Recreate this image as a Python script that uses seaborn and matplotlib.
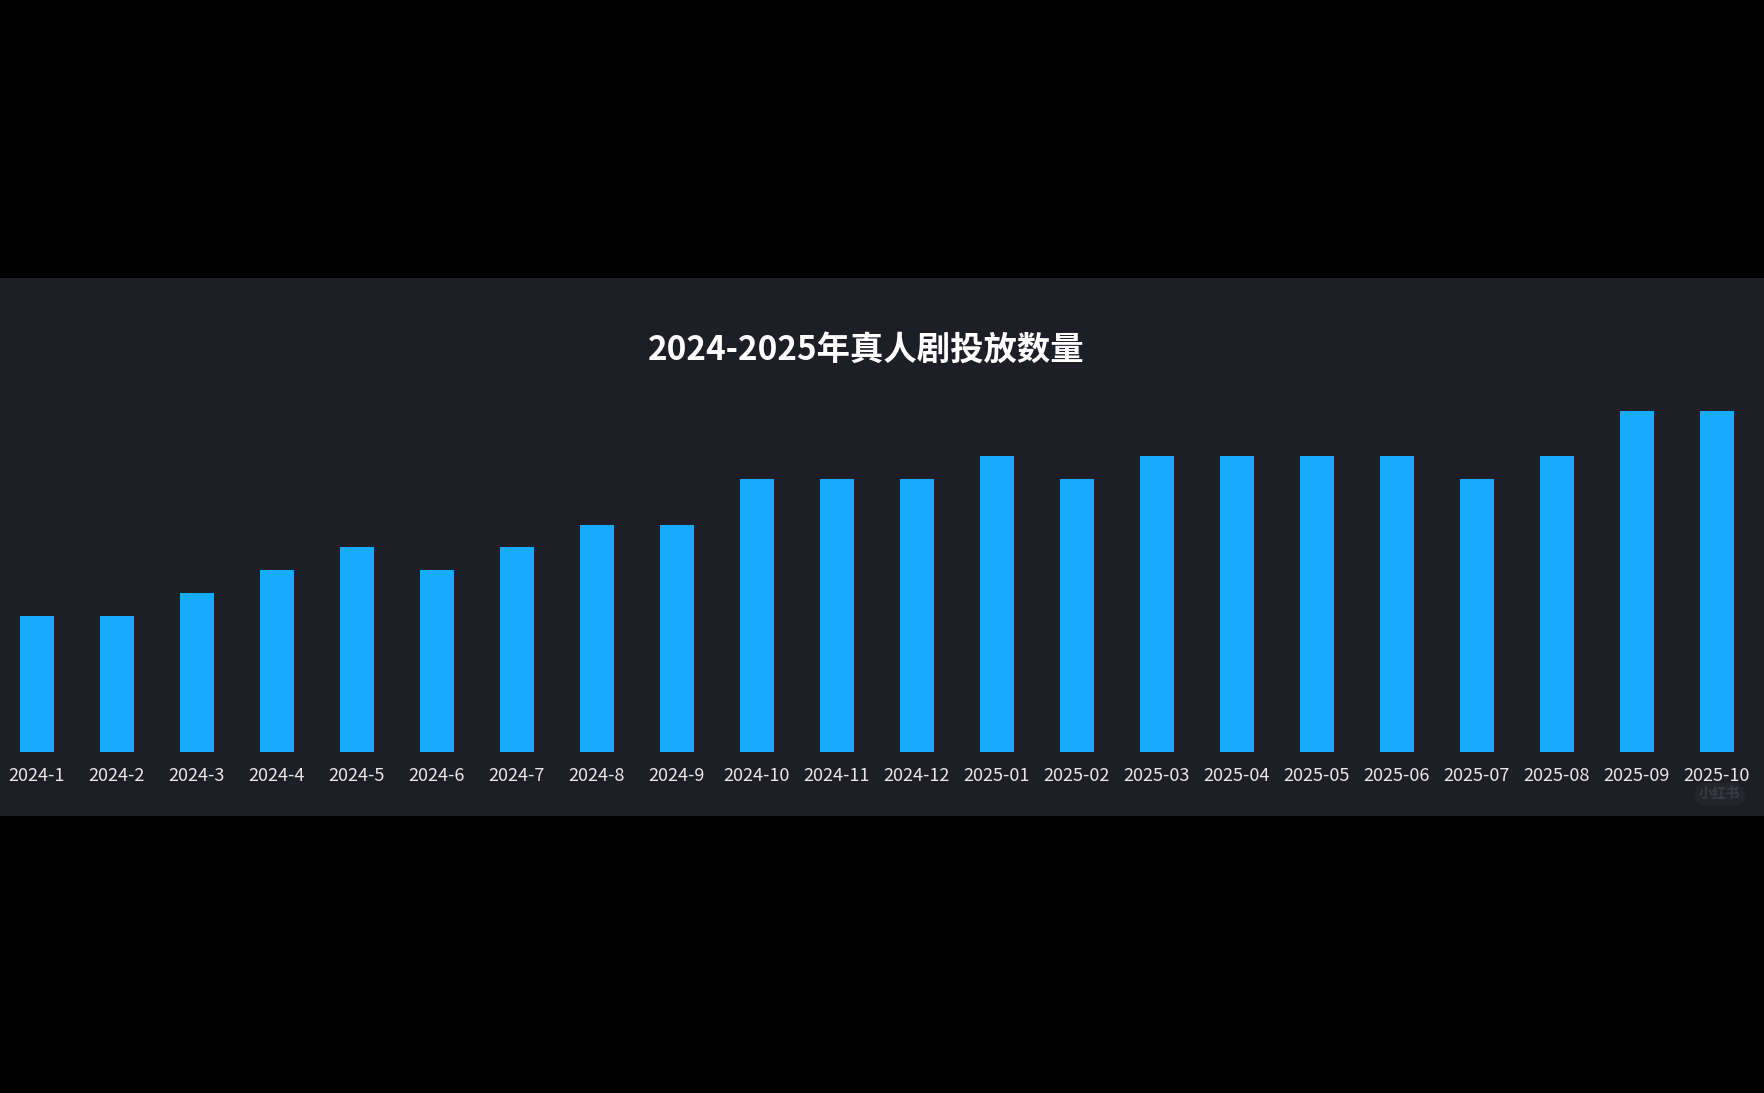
import matplotlib
matplotlib.use("Agg")
import matplotlib.pyplot as plt
import seaborn as sns
import pandas as pd
from matplotlib.patches import Rectangle

months = ["2024-1", "2024-2", "2024-3", "2024-4", "2024-5", "2024-6", "2024-7",
          "2024-8", "2024-9", "2024-10", "2024-11", "2024-12", "2025-01", "2025-02",
          "2025-03", "2025-04", "2025-05", "2025-06", "2025-07", "2025-08",
          "2025-09", "2025-10"]
counts = [6, 6, 7, 8, 9, 8, 9, 10, 10, 12, 12, 12, 13, 12, 13, 13, 13, 13, 12, 13, 15, 15]
title = "2024-2025年真人剧投放数量"

sns.set_theme(style="white")
plt.rcParams['font.family'] = ['Noto Sans CJK SC', 'DejaVu Sans']

W, H = 1764, 1093
fig = plt.figure(figsize=(W / 100, H / 100), dpi=100, facecolor="black")

# dark panel
panel_top, panel_bot = 278, 816
fig.patches.append(Rectangle((0, 1 - panel_bot / H), 1, (panel_bot - panel_top) / H,
                             transform=fig.transFigure, facecolor="#1d1e26",
                             edgecolor="none", zorder=-5))

base_y, top_y = 752, 411
ax = fig.add_axes([0, 1 - base_y / H, 1760 / W, (base_y - top_y) / H])
ax.set_facecolor("none")
ax.set_zorder(1)

df = pd.DataFrame({"month": months, "count": counts})
sns.barplot(data=df, x="month", y="count", color="#16abfc", saturation=1,
            width=0.42, linewidth=0, edgecolor="none", ax=ax)
ax.set_xlim(-0.4625, len(months) - 0.4625)
ax.set_ylim(0, 15)
for s in ax.spines.values():
    s.set_visible(False)
ax.set_yticks([])
ax.set_xlabel("")
ax.set_ylabel("")
ax.tick_params(axis="x", length=0, pad=11, labelsize=13, labelcolor="#e8e8e8")

fig.text(866 / W, 1 - 351 / H, title, ha="center", va="center",
         fontsize=24, fontweight="bold", color="white")

# faint watermark
fig.text(1720 / W, 1 - 794 / H, "小红书", ha="center", va="center", fontsize=10,
         fontweight="bold", color="#4a4b55", alpha=0.6,
         bbox=dict(boxstyle="round,pad=0.3,rounding_size=0.8", facecolor="#2a2b33",
                   edgecolor="none", alpha=0.5))

fig.savefig("out.png", dpi=100, facecolor="black")
